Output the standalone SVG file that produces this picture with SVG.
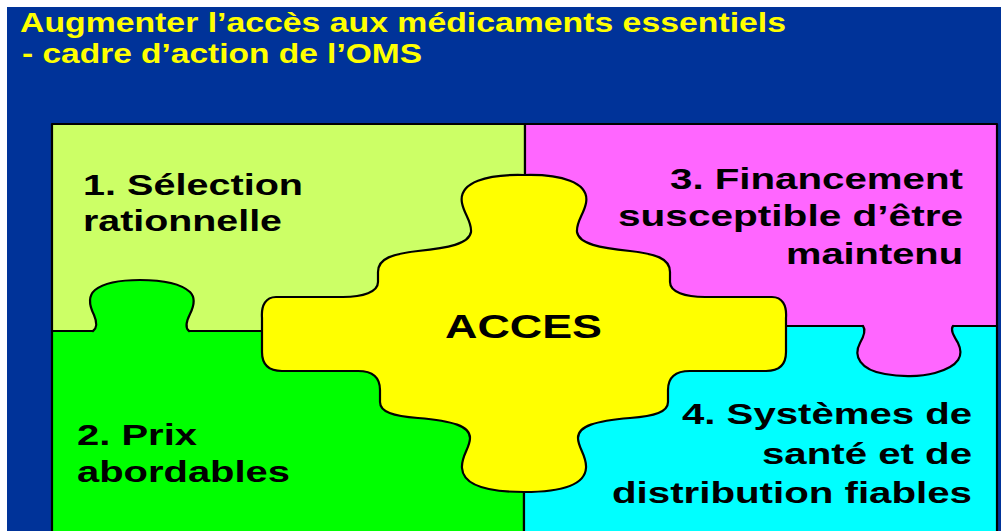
<svg xmlns="http://www.w3.org/2000/svg" width="1001" height="531" viewBox="0 0 1001 531">
<style>
.bd{stroke:#000;stroke-width:2.2;stroke-linejoin:round}
.ol{fill:none;stroke:#000;stroke-width:2.2;stroke-linejoin:round;stroke-linecap:round}
.t{font-family:"Liberation Sans",Arial,sans-serif;font-weight:bold;fill:#000}
.tt{font-family:"Liberation Sans",Arial,sans-serif;font-weight:bold;fill:#FFFF00;font-size:27px}
.b{font-size:30px}
</style>
<rect x="0" y="0" width="1001" height="531" fill="#fff"/>
<rect x="7" y="7" width="994" height="530" fill="#003399"/>
<g id="title">
<text class="tt" x="20" y="32" textLength="766" lengthAdjust="spacingAndGlyphs">Augmenter l’accès aux médicaments essentiels</text>
<text class="tt" x="22" y="63" textLength="400" lengthAdjust="spacingAndGlyphs">- cadre d’action de l’OMS</text>
</g>
<g id="piece1">
<rect class="bd" x="52" y="124" width="473" height="207" fill="#CCFF66"/>
</g>
<g id="piece3">
<rect class="bd" x="525" y="124" width="472" height="202" fill="#FF66FF"/>
</g>
<g id="piece2">
<rect class="bd" x="52" y="331" width="472" height="210" fill="#00FF00"/>
<path d="M93,331 C97,328 97,322 94,315 C89,305 88,296 95,290 C105,282 125,280 140,280 C160,280 180,283 190,292 C196,298 194,306 190,314 C186,322 185,328 189,331 L189,334 L93,334 Z" fill="#00FF00"/>
<path class="ol" d="M93,331 C97,328 97,322 94,315 C89,305 88,296 95,290 C105,282 125,280 140,280 C160,280 180,283 190,292 C196,298 194,306 190,314 C186,322 185,328 189,331"/>
</g>
<g id="piece4">
<rect class="bd" x="524" y="326" width="473" height="215" fill="#00FFFF"/>
<path d="M863,326 C866,330 864,336 860,343 C853,356 860,370 885,374 C900,377 920,377 935,373 C960,366 964,355 958,343 C954,336 950,330 953,326 L953,323 L863,323 Z" fill="#FF66FF"/>
<path class="ol" d="M863,326 C866,330 864,336 860,343 C853,356 860,370 885,374 C900,377 920,377 935,373 C960,366 964,355 958,343 C954,336 950,330 953,326"/>
</g>
<g id="acces">
<path class="bd" fill="#FFFF00" d="M524,175 C560,174 590,182 586,203 C584,214 576,222 577,232 C579,244 600,248 630,251 C655,254 670,258 670,272 L670,282 C670,292 685,297 705,297 L772,297 C782,297 787,305 786,318 L786,352 C786,364 780,371 766,371 L690,371 C674,371 668,378 668,390 L668,402 C668,412 655,416 630,418 C595,421 578,426 578,438 C578,448 587,456 586,468 C585,484 565,492 524,492 C483,492 463,484 462,468 C461,456 470,448 470,438 C470,426 453,421 418,418 C393,416 380,412 380,402 L380,390 C380,378 374,371 358,371 L282,371 C268,371 262,364 262,352 L262,318 C261,305 266,297 276,297 L343,297 C363,297 378,292 378,282 L378,272 C378,258 393,254 418,251 C448,248 469,244 471,232 C472,222 464,214 462,203 C458,182 488,174 524,175 Z"/>
<text class="t" x="445" y="338" font-size="33" textLength="157" lengthAdjust="spacingAndGlyphs">ACCES</text>
</g>
<g id="label1">
<text class="t b" x="83" y="195" textLength="220" lengthAdjust="spacingAndGlyphs">1. Sélection</text>
<text class="t b" x="83" y="231" textLength="199" lengthAdjust="spacingAndGlyphs">rationnelle</text>
</g>
<g id="label2">
<text class="t b" x="77" y="445" textLength="120" lengthAdjust="spacingAndGlyphs">2. Prix</text>
<text class="t b" x="77" y="482" textLength="213" lengthAdjust="spacingAndGlyphs">abordables</text>
</g>
<g id="label3">
<text class="t b" x="670" y="189" textLength="293" lengthAdjust="spacingAndGlyphs">3. Financement</text>
<text class="t b" x="618" y="226" textLength="345" lengthAdjust="spacingAndGlyphs">susceptible d’être</text>
<text class="t b" x="786" y="264" textLength="177" lengthAdjust="spacingAndGlyphs">maintenu</text>
</g>
<g id="label4">
<text class="t b" x="682" y="424" textLength="290" lengthAdjust="spacingAndGlyphs">4. Systèmes de</text>
<text class="t b" x="762" y="464" textLength="210" lengthAdjust="spacingAndGlyphs">santé et de</text>
<text class="t b" x="612" y="503" textLength="360" lengthAdjust="spacingAndGlyphs">distribution fiables</text>
</g>
</svg>
